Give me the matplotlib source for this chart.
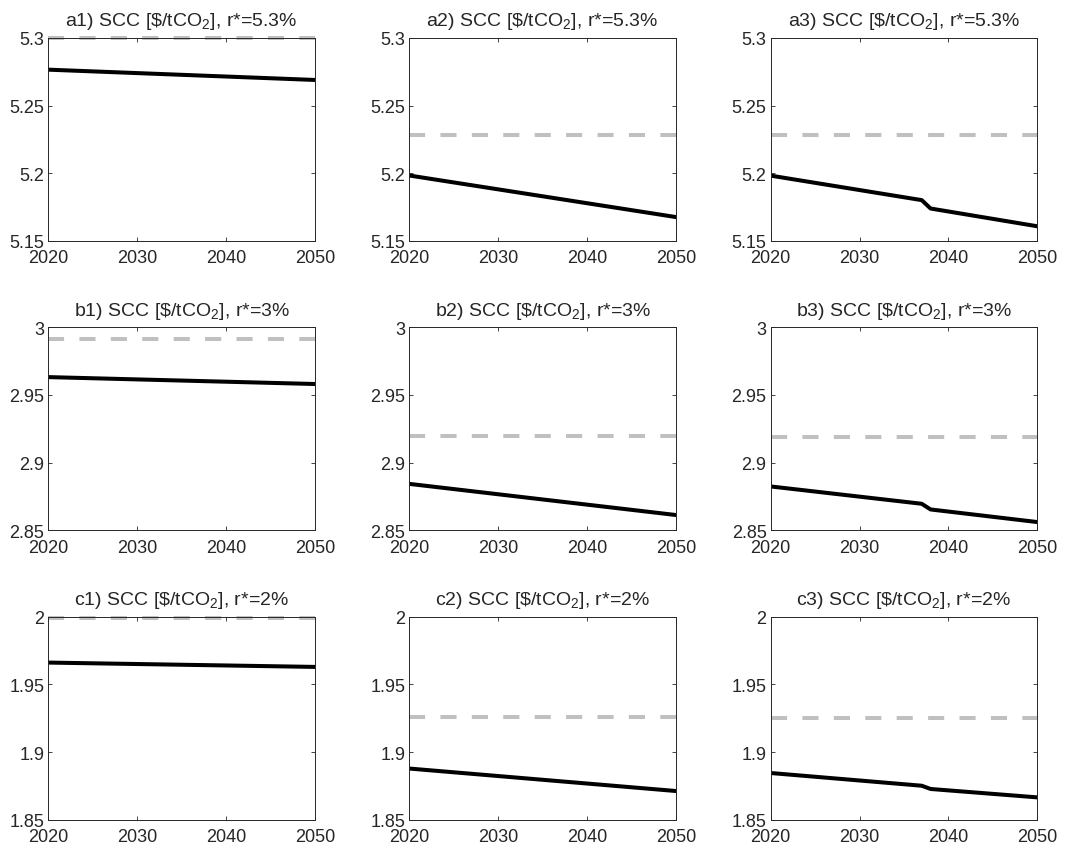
import matplotlib.pyplot as plt
from matplotlib.ticker import FuncFormatter

plt.rcParams['font.family'] = ['Liberation Sans', 'DejaVu Sans']
plt.rcParams['mathtext.fontset'] = 'custom'
plt.rcParams['mathtext.rm'] = 'Liberation Sans'
plt.rcParams['mathtext.default'] = 'regular'

# Data
years_lin = [2020, 2050]
years_kink = [2020, 2037, 2038, 2050]

rates = ['5.3', '3', '2']
row_letters = ['a', 'b', 'c']
ylims = [(5.15, 5.3), (2.85, 3.0), (1.85, 2.0)]
yticks = [[5.15, 5.2, 5.25, 5.3], [2.85, 2.9, 2.95, 3.0], [1.85, 1.9, 1.95, 2.0]]
xticks = [2020, 2030, 2040, 2050]

# solid black series, per row: columns 1, 2 (linear), 3 (kinked)
scc_col1 = [[5.2766, 5.2690], [2.9632, 2.9581], [1.9661, 1.9629]]
scc_col2 = [[5.1984, 5.1677], [2.8843, 2.8613], [1.8878, 1.8712]]
scc_col3 = [[5.1983, 5.1802, 5.1740, 5.1609],
            [2.8824, 2.8696, 2.8654, 2.8561],
            [1.8845, 1.8751, 1.8727, 1.8665]]

# grey dashed reference level, per row and column
ref_level = [[5.2997, 5.2280, 5.2283],
             [2.9914, 2.9196, 2.9191],
             [1.9988, 1.9259, 1.9250]]

W, H = 1070, 853
fig = plt.figure(figsize=(W / 100, H / 100), dpi=100)

lefts = [48.3, 409.3, 770.7]
tops = [39.0, 328.3, 617.7]
aw, ah = 266.5, 203.0

fmt = FuncFormatter(lambda v, p: '%g' % round(v, 4))

for r in range(3):
    for c in range(3):
        ax = fig.add_axes([lefts[c] / W, 1 - (tops[r] + ah) / H, aw / W, ah / H])
        if c == 2:
            xs, ys = years_kink, scc_col3[r]
        elif c == 1:
            xs, ys = years_lin, scc_col2[r]
        else:
            xs, ys = years_lin, scc_col1[r]
        ax.plot(xs, ys, color='black', lw=2.9, solid_joinstyle='round')
        ax.plot(years_lin, [ref_level[r][c]] * 2, color='#c0c0c0', lw=2.9,
                linestyle=(0, (4.0, 3.8)), clip_on=False)
        ax.set_xlim(2020, 2050)
        ax.set_ylim(*ylims[r])
        ax.set_xticks(xticks)
        ax.set_yticks(yticks[r])
        ax.yaxis.set_major_formatter(fmt)
        ax.tick_params(direction='in', length=3, width=0.6, top=True, right=True,
                       labelsize=13, colors='#262626')
        ax.tick_params(axis='x', pad=6)
        ax.tick_params(axis='y', pad=3)
        for s in ax.spines.values():
            s.set_linewidth(0.7)
            s.set_color('#262626')
        title = r'%s%d) SCC [\$/tCO$_2$], r*=%s%%' % (row_letters[r], c + 1, rates[r])
        ax.set_title(title, fontsize=14, color='#262626', pad=9)

fig.savefig('out.png', dpi=100)
